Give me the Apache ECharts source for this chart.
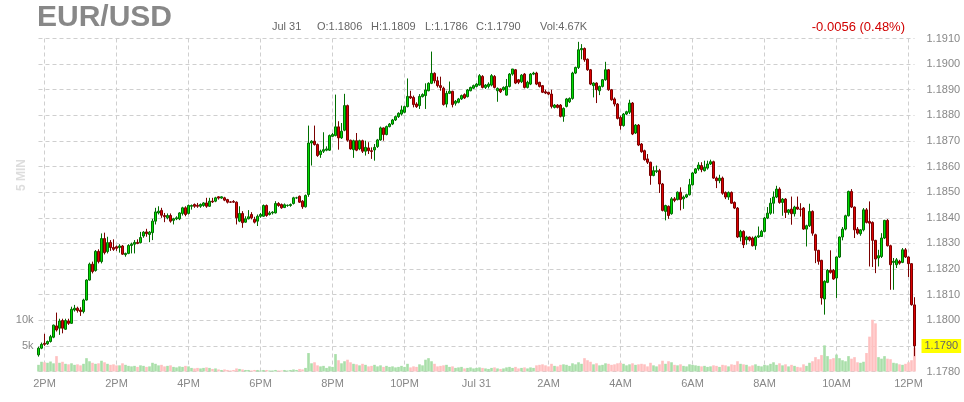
<!DOCTYPE html>
<html><head><meta charset="utf-8">
<script src="https://cdn.jsdelivr.net/npm/echarts@6/dist/echarts.min.js"></script>
<style>html,body{margin:0;padding:0;background:#fff}#c{width:964px;height:402px}</style>
</head><body><div id="c"></div>
<script>
// ---- data (5-min EUR/USD bars, Jul 30 11:50 -> Jul 31 12:10) ----
const opens = [1.17865,1.17891,1.17910,1.17908,1.17917,1.17934,1.17978,1.17969,1.17999,1.17965,
1.17997,1.17988,1.18040,1.18047,1.18040,1.18034,1.18079,1.18157,1.18219,1.18194,
1.18269,1.18229,1.18319,1.18268,1.18304,1.18284,1.18287,1.18284,1.18290,1.18256,
1.18261,1.18292,1.18297,1.18304,1.18303,1.18329,1.18345,1.18335,1.18342,1.18387,
1.18419,1.18429,1.18409,1.18400,1.18409,1.18390,1.18396,1.18396,1.18417,1.18439,
1.18417,1.18445,1.18452,1.18449,1.18445,1.18448,1.18458,1.18445,1.18465,1.18465,
1.18482,1.18477,1.18478,1.18471,1.18462,1.18464,1.18461,1.18387,1.18417,1.18383,
1.18396,1.18413,1.18394,1.18387,1.18406,1.18406,1.18448,1.18413,1.18419,1.18419,
1.18456,1.18452,1.18440,1.18448,1.18448,1.18456,1.18478,1.18484,1.18465,1.18443,
1.18491,1.18692,1.18699,1.18686,1.18647,1.18660,1.18664,1.18664,1.18718,1.18721,
1.18755,1.18712,1.18742,1.18838,1.18703,1.18666,1.18701,1.18669,1.18701,1.18660,
1.18673,1.18662,1.18665,1.18678,1.18704,1.18751,1.18725,1.18756,1.18766,1.18782,
1.18795,1.18805,1.18812,1.18834,1.18874,1.18870,1.18844,1.18838,1.18873,1.18877,
1.18896,1.18925,1.18964,1.18935,1.18916,1.18906,1.18844,1.18886,1.18894,1.18847,
1.18851,1.18864,1.18881,1.18873,1.18896,1.18906,1.18913,1.18918,1.18952,1.18909,
1.18913,1.18918,1.18952,1.18896,1.18903,1.18900,1.18879,1.18913,1.18961,1.18978,
1.18939,1.18931,1.18961,1.18909,1.18922,1.18961,1.18965,1.18929,1.18916,1.18892,
1.18890,1.18883,1.18831,1.18840,1.18840,1.18796,1.18835,1.18853,1.18866,1.18965,
1.18987,1.19056,1.19061,1.19019,1.18978,1.18916,1.18926,1.18896,1.18913,1.18939,
1.18978,1.18900,1.18864,1.18844,1.18792,1.18760,1.18805,1.18812,1.18848,1.18731,
1.18762,1.18688,1.18662,1.18630,1.18617,1.18565,1.18581,1.18584,1.18532,1.18425,
1.18445,1.18416,1.18474,1.18471,1.18500,1.18474,1.18481,1.18490,1.18529,1.18575,
1.18591,1.18604,1.18584,1.18594,1.18610,1.18619,1.18555,1.18545,1.18555,1.18499,
1.18481,1.18499,1.18460,1.18438,1.18325,1.18347,1.18314,1.18325,1.18321,1.18291,
1.18325,1.18327,1.18347,1.18399,1.18418,1.18457,1.18481,1.18512,1.18460,1.18473,
1.18421,1.18434,1.18416,1.18442,1.18434,1.18438,1.18356,1.18369,1.18425,1.18334,
1.18273,1.18234,1.18083,1.18148,1.18195,1.18195,1.18165,1.18247,1.18325,1.18356,
1.18408,1.18503,1.18442,1.18356,1.18338,1.18353,1.18431,1.18386,1.18382,1.18312,
1.18243,1.18249,1.18321,1.18390,1.18291,1.18226,1.18217,1.18230,1.18226,1.18275,
1.18247,1.18221,1.18060];
const closes = [1.17891,1.17906,1.17906,1.17917,1.17936,1.17981,1.17962,1.17997,1.17969,1.17999,
1.17988,1.18043,1.18047,1.18038,1.18034,1.18079,1.18157,1.18219,1.18190,1.18269,
1.18229,1.18319,1.18264,1.18303,1.18284,1.18277,1.18281,1.18290,1.18258,1.18261,
1.18292,1.18297,1.18304,1.18300,1.18323,1.18344,1.18338,1.18344,1.18387,1.18423,
1.18426,1.18410,1.18404,1.18409,1.18387,1.18396,1.18400,1.18419,1.18439,1.18413,
1.18448,1.18448,1.18445,1.18445,1.18452,1.18458,1.18445,1.18465,1.18462,1.18478,
1.18477,1.18482,1.18469,1.18461,1.18461,1.18461,1.18400,1.18417,1.18381,1.18396,
1.18404,1.18400,1.18383,1.18406,1.18413,1.18448,1.18409,1.18419,1.18422,1.18456,
1.18448,1.18439,1.18451,1.18449,1.18452,1.18478,1.18478,1.18461,1.18443,1.18487,
1.18692,1.18699,1.18686,1.18643,1.18660,1.18666,1.18669,1.18721,1.18725,1.18755,
1.18712,1.18738,1.18838,1.18703,1.18669,1.18701,1.18664,1.18701,1.18660,1.18675,
1.18662,1.18659,1.18675,1.18704,1.18751,1.18725,1.18756,1.18766,1.18782,1.18795,
1.18808,1.18821,1.18834,1.18874,1.18868,1.18842,1.18834,1.18874,1.18881,1.18899,
1.18925,1.18964,1.18935,1.18916,1.18909,1.18842,1.18886,1.18894,1.18842,1.18855,
1.18864,1.18877,1.18868,1.18899,1.18909,1.18916,1.18922,1.18955,1.18909,1.18918,
1.18922,1.18955,1.18909,1.18905,1.18892,1.18909,1.18913,1.18961,1.18981,1.18926,
1.18929,1.18957,1.18909,1.18929,1.18961,1.18965,1.18922,1.18913,1.18890,1.18887,
1.18883,1.18835,1.18840,1.18831,1.18796,1.18827,1.18864,1.18866,1.18965,1.18987,
1.19056,1.19061,1.19017,1.18978,1.18922,1.18926,1.18900,1.18913,1.18939,1.18978,
1.18900,1.18861,1.18844,1.18788,1.18760,1.18805,1.18814,1.18848,1.18727,1.18762,
1.18684,1.18658,1.18627,1.18617,1.18565,1.18584,1.18584,1.18532,1.18429,1.18448,
1.18409,1.18474,1.18468,1.18500,1.18471,1.18481,1.18490,1.18529,1.18575,1.18591,
1.18606,1.18588,1.18597,1.18610,1.18619,1.18555,1.18545,1.18555,1.18496,1.18481,
1.18499,1.18457,1.18438,1.18325,1.18347,1.18295,1.18325,1.18314,1.18291,1.18325,
1.18330,1.18347,1.18399,1.18418,1.18457,1.18481,1.18512,1.18460,1.18473,1.18421,
1.18431,1.18416,1.18442,1.18434,1.18433,1.18356,1.18369,1.18425,1.18340,1.18273,
1.18230,1.18087,1.18152,1.18195,1.18187,1.18161,1.18247,1.18325,1.18356,1.18408,
1.18503,1.18442,1.18353,1.18340,1.18353,1.18431,1.18382,1.18379,1.18312,1.18239,
1.18252,1.18321,1.18390,1.18291,1.18217,1.18230,1.18236,1.18223,1.18275,1.18247,
1.18221,1.18061,1.17900];
const highs = [1.17897,1.17913,1.17947,1.17921,1.17943,1.17983,1.18030,1.18006,1.18006,1.18006,
1.18006,1.18053,1.18060,1.18053,1.18051,1.18084,1.18160,1.18225,1.18229,1.18274,
1.18277,1.18339,1.18342,1.18326,1.18313,1.18316,1.18292,1.18297,1.18294,1.18264,
1.18297,1.18303,1.18313,1.18316,1.18345,1.18348,1.18357,1.18348,1.18396,1.18439,
1.18445,1.18439,1.18419,1.18417,1.18417,1.18400,1.18406,1.18422,1.18443,1.18445,
1.18452,1.18452,1.18456,1.18458,1.18456,1.18461,1.18478,1.18478,1.18478,1.18482,
1.18484,1.18484,1.18482,1.18474,1.18465,1.18469,1.18464,1.18445,1.18426,1.18406,
1.18430,1.18422,1.18404,1.18413,1.18419,1.18452,1.18452,1.18426,1.18426,1.18465,
1.18461,1.18456,1.18456,1.18452,1.18456,1.18482,1.18482,1.18487,1.18469,1.18491,
1.18760,1.18703,1.18760,1.18690,1.18666,1.18734,1.18679,1.18725,1.18731,1.18881,
1.18777,1.18770,1.18884,1.18842,1.18705,1.18705,1.18731,1.18705,1.18705,1.18701,
1.18695,1.18675,1.18688,1.18708,1.18756,1.18753,1.18760,1.18770,1.18786,1.18799,
1.18812,1.18838,1.18838,1.18944,1.18896,1.18877,1.18851,1.18883,1.18886,1.18925,
1.18929,1.19049,1.18968,1.18951,1.18951,1.18912,1.18896,1.18932,1.18896,1.18860,
1.18868,1.18881,1.18886,1.18903,1.18912,1.18920,1.18926,1.18961,1.18957,1.18922,
1.18929,1.18961,1.18957,1.18909,1.18905,1.18913,1.18942,1.18965,1.18981,1.18981,
1.18942,1.18961,1.18965,1.18935,1.18965,1.18970,1.18970,1.18931,1.18918,1.18900,
1.18892,1.18900,1.18844,1.18844,1.18844,1.18831,1.18868,1.18870,1.18970,1.18990,
1.19087,1.19078,1.19065,1.19022,1.18981,1.18929,1.18929,1.18916,1.18942,1.19009,
1.18981,1.18903,1.18870,1.18848,1.18799,1.18809,1.18818,1.18861,1.18852,1.18766,
1.18766,1.18692,1.18666,1.18649,1.18619,1.18601,1.18604,1.18591,1.18536,1.18451,
1.18448,1.18481,1.18481,1.18503,1.18519,1.18487,1.18494,1.18552,1.18578,1.18594,
1.18617,1.18617,1.18623,1.18623,1.18627,1.18623,1.18561,1.18568,1.18561,1.18503,
1.18503,1.18503,1.18464,1.18442,1.18353,1.18351,1.18330,1.18327,1.18327,1.18330,
1.18366,1.18353,1.18403,1.18442,1.18477,1.18503,1.18525,1.18519,1.18477,1.18477,
1.18434,1.18483,1.18447,1.18483,1.18457,1.18442,1.18373,1.18455,1.18429,1.18338,
1.18275,1.18236,1.18156,1.18200,1.18273,1.18200,1.18249,1.18327,1.18364,1.18412,
1.18506,1.18512,1.18444,1.18364,1.18356,1.18438,1.18438,1.18464,1.18386,1.18314,
1.18275,1.18340,1.18392,1.18395,1.18295,1.18243,1.18243,1.18236,1.18282,1.18282,
1.18249,1.18223,1.18090];
const lows = [1.17858,1.17887,1.17900,1.17904,1.17913,1.17930,1.17956,1.17943,1.17949,1.17962,
1.17982,1.17986,1.18034,1.18030,1.18017,1.18027,1.18077,1.18155,1.18183,1.18190,
1.18222,1.18222,1.18257,1.18261,1.18271,1.18271,1.18271,1.18264,1.18255,1.18248,
1.18258,1.18261,1.18261,1.18297,1.18300,1.18322,1.18326,1.18305,1.18313,1.18374,
1.18413,1.18400,1.18383,1.18394,1.18381,1.18374,1.18391,1.18391,1.18409,1.18406,
1.18413,1.18432,1.18439,1.18439,1.18439,1.18443,1.18439,1.18443,1.18458,1.18461,
1.18471,1.18474,1.18465,1.18456,1.18458,1.18458,1.18374,1.18383,1.18361,1.18381,
1.18394,1.18394,1.18378,1.18368,1.18400,1.18404,1.18404,1.18409,1.18413,1.18417,
1.18443,1.18435,1.18438,1.18443,1.18443,1.18452,1.18474,1.18458,1.18435,1.18440,
1.18482,1.18604,1.18682,1.18638,1.18634,1.18653,1.18660,1.18661,1.18716,1.18718,
1.18666,1.18708,1.18738,1.18697,1.18666,1.18634,1.18660,1.18664,1.18653,1.18643,
1.18649,1.18630,1.18623,1.18673,1.18701,1.18701,1.18722,1.18753,1.18762,1.18778,
1.18790,1.18799,1.18808,1.18831,1.18864,1.18831,1.18829,1.18825,1.18870,1.18825,
1.18894,1.18922,1.18925,1.18909,1.18896,1.18838,1.18831,1.18883,1.18831,1.18838,
1.18847,1.18860,1.18864,1.18870,1.18894,1.18903,1.18909,1.18916,1.18905,1.18903,
1.18905,1.18913,1.18905,1.18853,1.18887,1.18896,1.18877,1.18909,1.18955,1.18922,
1.18922,1.18926,1.18905,1.18905,1.18918,1.18957,1.18918,1.18909,1.18887,1.18883,
1.18879,1.18827,1.18827,1.18827,1.18792,1.18775,1.18831,1.18848,1.18861,1.18961,
1.18981,1.19019,1.19009,1.18974,1.18918,1.18870,1.18848,1.18879,1.18909,1.18935,
1.18896,1.18857,1.18835,1.18784,1.18744,1.18756,1.18801,1.18805,1.18723,1.18727,
1.18680,1.18654,1.18623,1.18610,1.18529,1.18562,1.18575,1.18497,1.18425,1.18390,
1.18396,1.18412,1.18461,1.18468,1.18429,1.18435,1.18477,1.18487,1.18526,1.18571,
1.18584,1.18578,1.18581,1.18588,1.18606,1.18552,1.18516,1.18535,1.18490,1.18473,
1.18470,1.18455,1.18434,1.18321,1.18308,1.18282,1.18295,1.18308,1.18288,1.18275,
1.18321,1.18325,1.18343,1.18395,1.18412,1.18416,1.18477,1.18455,1.18408,1.18399,
1.18412,1.18373,1.18405,1.18431,1.18405,1.18353,1.18288,1.18364,1.18330,1.18223,
1.18217,1.18061,1.18022,1.18145,1.18182,1.18158,1.18087,1.18243,1.18312,1.18351,
1.18405,1.18438,1.18321,1.18334,1.18330,1.18347,1.18378,1.18210,1.18208,1.18184,
1.18210,1.18243,1.18317,1.18288,1.18119,1.18119,1.18204,1.18217,1.18223,1.18243,
1.18169,1.18057,1.17860];
const volumes = [1300,1900,1800,1700,1950,1600,3000,1700,1900,1500,
1400,1600,1300,1400,1200,1500,2600,2000,1700,1500,
1600,2100,1800,1500,1300,1400,1200,1200,1600,1300,
1100,1000,1100,900,1200,1100,900,1000,1700,1500,
1200,1300,1000,1100,1200,900,800,1000,900,1100,
1000,700,600,700,600,700,800,700,500,600,
400,300,400,300,200,300,600,500,400,300,
300,200,300,300,200,300,300,200,200,300,
200,200,300,200,300,400,300,500,400,700,
3600,1600,1800,1200,1000,1100,700,1000,900,3400,
2200,1600,2000,2300,1800,1500,1400,1200,1500,1300,
1000,1100,1300,1000,1200,900,1100,900,1000,800,
900,1100,900,1500,800,1000,900,1400,1200,2300,
2600,2000,1500,1000,1100,1200,1300,900,1000,700,
800,900,600,700,800,600,700,800,700,600,
500,700,800,600,500,600,800,900,700,900,
600,700,800,600,800,700,1200,1300,1400,1200,
1000,1500,1100,1000,1300,1400,1300,1100,1600,1400,
1800,1500,2600,2200,1900,1400,1600,1200,1300,1600,
1500,1300,1400,1600,1700,1500,1200,1400,1600,1300,
1400,1500,1400,1000,1700,1200,1000,1400,2100,1500,
2000,1800,1300,1200,1400,1100,1000,1400,1300,1200,
1100,1000,1100,900,1000,1200,1100,900,1300,1200,
1000,1400,1300,2000,1500,1400,1300,1000,1200,1400,
1100,1000,1300,1200,1500,1800,1300,1600,1200,1400,
1000,1300,1100,900,800,1400,1100,1700,2000,2800,
2400,3200,5100,3000,2400,2600,3300,2600,2200,2000,
3000,2500,2800,1800,1700,1900,3600,6800,10100,9400,
2800,2500,3000,2500,2400,1700,1600,1400,1300,1500,
1800,2200,4670];
const tickIndex = [2,26,50,74,98,122,146,170,194,218,242,266,290];
const tickText  = ['2PM','2PM','4PM','6PM','8PM','10PM','Jul 31','2AM','4AM','6AM','8AM','10AM','12PM'];
const priceTicks = {min:1.1780, max:1.1910, step:0.001};
const volTicks = {max:65000, step:5000, shown:{5000:'5k',10000:'10k'}};
const header = {title:'EUR/USD', date:'Jul 31', o:'O:1.1806', h:'H:1.1809', l:'L:1.1786', c:'C:1.1790', vol:'Vol:4.67K', change:'-0.0056 (0.48%)', period:'5 MIN'};

// ---- chart ----
const N = closes.length;
const categories = [];
for (let i = 0; i < N; i++) {
  const m = 11 * 60 + 50 + 5 * i;
  const day = m >= 1440 ? '07-31' : '07-30';
  const mm = m % 1440;
  categories.push(day + ' ' + String(Math.floor(mm / 60)).padStart(2, '0') + ':' + String(mm % 60).padStart(2, '0'));
}
const candleData = opens.map((o, i) => [o, closes[i], lows[i], highs[i]]);
const isTick = i => tickIndex.indexOf(i) >= 0;
const FONT = 'Liberation Sans, Arial, sans-serif';
const UP = '#00dd00', UPB = '#006e00', DN = '#dd0000', DNB = '#7a0000';

const chart = echarts.init(document.getElementById('c'));
chart.setOption({
  animation: false,
  backgroundColor: '#fff',
  grid: {left: 38.5, right: 49.5, top: 38.5, bottom: 30.5, containLabel: false},
  xAxis: {
    type: 'category', data: categories, boundaryGap: false,
    axisLine: {show: false}, axisTick: {show: false},
    axisLabel: {interval: (i) => isTick(i), formatter: (v, i) => tickText[tickIndex.indexOf(i)] || '',
      color: '#888', fontSize: 11, fontFamily: FONT, margin: 7},
    splitLine: {show: true, interval: (i) => isTick(i), lineStyle: {color: '#cfcfcf', type: [4, 3], width: 1}}
  },
  yAxis: [{
    type: 'value', position: 'right', min: priceTicks.min, max: priceTicks.max, interval: priceTicks.step,
    axisLine: {show: false}, axisTick: {show: false},
    axisLabel: {formatter: v => v.toFixed(4), color: '#888', fontSize: 11, fontFamily: FONT, margin: 12},
    splitLine: {show: true, lineStyle: {color: '#cfcfcf', type: [4, 3], width: 1}}
  }, {
    type: 'value', position: 'left', min: 0, max: volTicks.max, interval: volTicks.step,
    axisLine: {show: false}, axisTick: {show: false}, splitLine: {show: false},
    axisLabel: {formatter: v => volTicks.shown[Math.round(v)] || '', color: '#888', fontSize: 11, fontFamily: FONT, margin: 5}
  }],
  series: [{
    type: 'bar', yAxisIndex: 1, data: volumes, barWidth: 2.6, clip: false, silent: true,
    itemStyle: {color: p => closes[p.dataIndex] >= opens[p.dataIndex] ? '#a9dfa9' : '#ffc0c0'}
  }, {
    type: 'candlestick', yAxisIndex: 0, data: candleData, barWidth: 2, clip: false,
    itemStyle: {color: UP, color0: DN, borderColor: UPB, borderColor0: DNB, borderWidth: 1},
    markLine: {
      silent: true, symbol: ['none', 'none'], animation: false, precision: 5,
      lineStyle: {color: 'rgba(0,0,0,0)', width: 0, type: 'solid'},
      label: {show: true, position: 'end', formatter: p => Number(p.value).toFixed(4), backgroundColor: '#ffff00',
        color: '#666', fontSize: 11, fontFamily: FONT, padding: [2, 3, 1, 3], distance: 7},
      emphasis: {disabled: true},
      data: [{yAxis: closes[N - 1]}]
    }
  }],
  graphic: [
    {type: 'text', left: 37, top: 3, style: {text: header.title, font: 'bold 30px ' + FONT, fill: '#888'}},
    {type: 'text', x: 272, y: 27, style: {text: header.date, font: '11px ' + FONT, fill: '#666', verticalAlign: 'middle'}},
    {type: 'text', x: 317, y: 27, style: {text: header.o, font: '11px ' + FONT, fill: '#666', verticalAlign: 'middle'}},
    {type: 'text', x: 371, y: 27, style: {text: header.h, font: '11px ' + FONT, fill: '#666', verticalAlign: 'middle'}},
    {type: 'text', x: 425, y: 27, style: {text: header.l, font: '11px ' + FONT, fill: '#666', verticalAlign: 'middle'}},
    {type: 'text', x: 476, y: 27, style: {text: header.c, font: '11px ' + FONT, fill: '#666', verticalAlign: 'middle'}},
    {type: 'text', x: 540, y: 27, style: {text: header.vol, font: '11px ' + FONT, fill: '#666', verticalAlign: 'middle'}},
    {type: 'text', x: 905, y: 27, style: {text: header.change, font: '13px ' + FONT, fill: '#d00000', align: 'right', verticalAlign: 'middle'}},
    {type: 'text', x: 22, y: 175, rotation: Math.PI / 2, style: {text: header.period, font: 'bold 12px ' + FONT, fill: '#dddddd', align: 'center', verticalAlign: 'middle'}}
  ]
});
</script>
</body></html>
